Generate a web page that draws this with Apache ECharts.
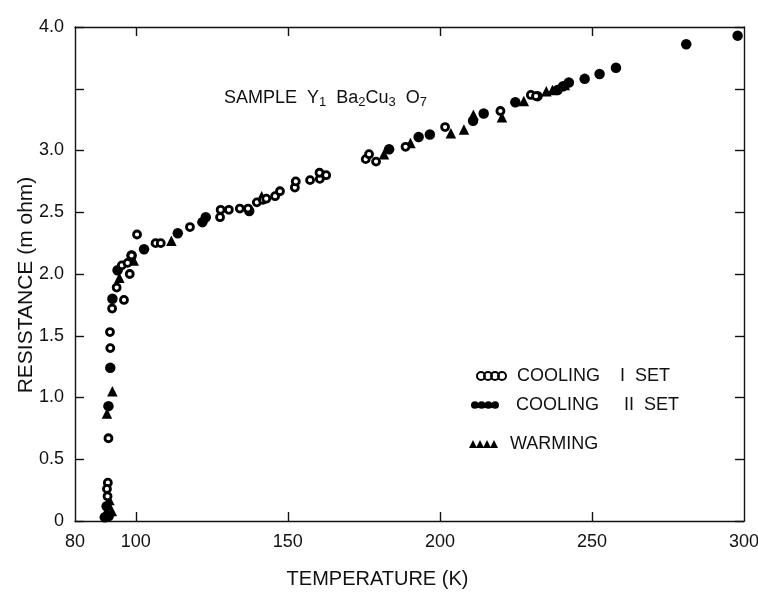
<!DOCTYPE html>
<html>
<head>
<meta charset="utf-8">
<script src="https://cdn.jsdelivr.net/npm/echarts@6/dist/echarts.min.js"></script>
<style>
html,body{margin:0;padding:0;background:#fff;}
#chart{width:758px;height:594px;}
</style>
</head>
<body>
<div id="chart"></div>
<script>
// Temperature (K) and resistance (m ohm)
var coolingIT = [90.8, 90.5, 90.7, 91.0, 91.6, 91.5, 92.2, 96.1, 93.7, 98.0, 95.4, 97.3, 98.6, 100.4, 106.5, 108.2, 117.8, 127.9, 130.6, 127.7, 134.2, 136.9, 139.8, 141.8, 142.9, 145.8, 147.4, 152.3, 152.6, 157.3, 160.5, 160.4, 162.6, 175.6, 176.7, 179.0, 188.7, 201.7, 219.9, 229.9, 231.6];
var coolingIR = [0.31, 0.26, 0.20, 0.67, 1.40, 1.53, 1.72, 1.79, 1.89, 2.00, 2.07, 2.09, 2.15, 2.32, 2.25, 2.25, 2.38, 2.52, 2.52, 2.46, 2.53, 2.53, 2.58, 2.60, 2.61, 2.63, 2.67, 2.70, 2.75, 2.76, 2.77, 2.82, 2.80, 2.93, 2.97, 2.91, 3.03, 3.19, 3.32, 3.45, 3.44];

var coolingIIT = [89.8, 90.4, 91.1, 91.0, 91.6, 92.3, 94.0, 98.6, 102.7, 113.8, 121.9, 123.0, 137.3, 183.3, 193.0, 196.7, 210.9, 214.4, 224.8, 232.1, 238.7, 240.5, 242.4, 247.6, 252.5, 257.9, 281.0, 297.9];
var coolingIIR = [0.03, 0.12, 0.04, 0.93, 1.24, 1.80, 2.03, 2.15, 2.20, 2.33, 2.42, 2.46, 2.51, 3.01, 3.11, 3.13, 3.24, 3.30, 3.39, 3.44, 3.49, 3.52, 3.55, 3.58, 3.62, 3.67, 3.86, 3.93];

var warmingT = [90.2, 91.3, 92.1, 90.5, 92.3, 94.6, 99.3, 111.7, 141.4, 181.6, 190.3, 203.6, 207.9, 211.0, 220.4, 227.6, 235.0, 237.0, 241.1];
var warmingR = [0.07, 0.17, 0.08, 0.87, 1.05, 1.97, 2.11, 2.27, 2.63, 2.97, 3.06, 3.14, 3.17, 3.29, 3.27, 3.40, 3.48, 3.49, 3.53];

var xLabelValues = [80, 100, 150, 200, 250, 300];
var xTickValues = [100, 150, 200, 250];
var seriesNames = ['COOLING    I  SET', 'COOLING     II  SET', 'WARMING'];
var yAxisTitle = 'RESISTANCE (m ohm)';
var xAxisTitle = 'TEMPERATURE (K)';

function zip(a, b) { return a.map(function (v, i) { return [v, b[i]]; }); }

var FONT = 'Liberation Sans';
var circles4 = 'path://M0,4a4,4 0 1,0 8,0a4,4 0 1,0 -8,0M7,4a4,4 0 1,0 8,0a4,4 0 1,0 -8,0M14,4a4,4 0 1,0 8,0a4,4 0 1,0 -8,0M21,4a4,4 0 1,0 8,0a4,4 0 1,0 -8,0';
var tri4 = 'path://M0,8L4,0L8,8ZM7,8L11,0L15,8ZM14,8L18,0L22,8ZM21,8L25,0L29,8Z';

var axisLineStyle = { color: '#111', width: 1.4 };
var tickStyle = { color: '#111', width: 1.4 };

function legendText(pad) { return { fontFamily: FONT, fontSize: 18, color: '#111', padding: [0, 0, 0, pad] }; }

var chart = echarts.init(document.getElementById('chart'));
chart.setOption({
  animation: false,
  backgroundColor: '#fff',
  textStyle: { fontFamily: FONT },
  title: {
    left: 219, top: 82,
    text: 'SAMPLE  Y{s|1}  Ba{s|2}Cu{s|3}  O{s|7}',
    textStyle: {
      fontFamily: FONT, fontSize: 18, fontWeight: 'normal', color: '#111', lineHeight: 22,
      rich: { s: { fontFamily: FONT, fontSize: 13, lineHeight: 10, verticalAlign: 'bottom', color: '#111' } }
    }
  },
  graphic: [
    {
      type: 'text', x: 26, y: 285, rotation: Math.PI / 2,
      style: { text: yAxisTitle, fontFamily: FONT, fontSize: 21, fill: '#111', align: 'center', verticalAlign: 'middle' }
    }
  ],
  legend: [
    { data: [seriesNames[0]], left: 471, top: 362, itemWidth: 29, itemHeight: 8, icon: circles4,
      itemStyle: { color: '#fff', borderColor: '#000', borderWidth: 2 }, textStyle: legendText(6) },
    { data: [seriesNames[1]], left: 466, top: 391, itemWidth: 28, itemHeight: 9, icon: circles4,
      itemStyle: { color: '#000', borderWidth: 0 }, textStyle: legendText(12) },
    { data: [seriesNames[2]], left: 464, top: 430, itemWidth: 29, itemHeight: 8, icon: tri4,
      itemStyle: { color: '#000', borderWidth: 0 }, textStyle: legendText(7) }
  ],
  grid: { left: 75, right: 14, top: 27, bottom: 73, containLabel: false, outerBoundsMode: 'none' },
  xAxis: [
    {
      type: 'value', position: 'bottom', min: 80, max: 300,
      name: xAxisTitle, nameLocation: 'middle', nameGap: 48,
      nameTextStyle: { fontFamily: FONT, fontSize: 20, color: '#111', padding: [0, 64, 0, 0] },
      axisLine: { show: true, onZero: false, lineStyle: axisLineStyle },
      axisTick: { show: true, inside: true, length: 9, customValues: xTickValues, lineStyle: tickStyle },
      axisLabel: { show: true, customValues: xLabelValues, margin: 12, fontFamily: FONT, fontSize: 18, color: '#111' },
      splitLine: { show: false }
    },
    {
      type: 'value', position: 'top', min: 80, max: 300,
      axisLine: { show: true, onZero: false, lineStyle: axisLineStyle },
      axisTick: { show: true, inside: true, length: 9, customValues: xTickValues, lineStyle: tickStyle },
      axisLabel: { show: false },
      splitLine: { show: false }
    }
  ],
  yAxis: [
    {
      type: 'value', position: 'left', min: 0, max: 4, interval: 0.5,
      axisLine: { show: true, onZero: false, lineStyle: axisLineStyle },
      axisTick: { show: true, inside: true, length: 9, lineStyle: tickStyle },
      axisLabel: {
        margin: 11, fontFamily: FONT, fontSize: 18, color: '#111',
        formatter: function (v) { if (v === 3.5) return ''; if (v === 0) return '0'; return v.toFixed(1); }
      },
      splitLine: { show: false }
    },
    {
      type: 'value', position: 'right', min: 0, max: 4, interval: 0.5,
      axisLine: { show: true, onZero: false, lineStyle: axisLineStyle },
      axisTick: { show: true, inside: true, length: 9, lineStyle: tickStyle },
      axisLabel: { show: false },
      splitLine: { show: false }
    }
  ],
  series: [
    {
      name: seriesNames[0], type: 'scatter', xAxisIndex: 0, yAxisIndex: 0,
      symbol: 'circle', symbolSize: 7,
      itemStyle: { color: '#fff', borderColor: '#000', borderWidth: 2.8, opacity: 1 },
      data: zip(coolingIT, coolingIR), z: 3
    },
    {
      name: seriesNames[1], type: 'scatter', xAxisIndex: 0, yAxisIndex: 0,
      symbol: 'circle', symbolSize: 10.5,
      itemStyle: { color: '#000', opacity: 1 },
      data: zip(coolingIIT, coolingIIR), z: 2
    },
    {
      name: seriesNames[2], type: 'scatter', xAxisIndex: 0, yAxisIndex: 0,
      symbol: 'triangle', symbolSize: 10.5,
      itemStyle: { color: '#000', opacity: 1 },
      data: zip(warmingT, warmingR), z: 2
    }
  ]
});
</script>
</body>
</html>
